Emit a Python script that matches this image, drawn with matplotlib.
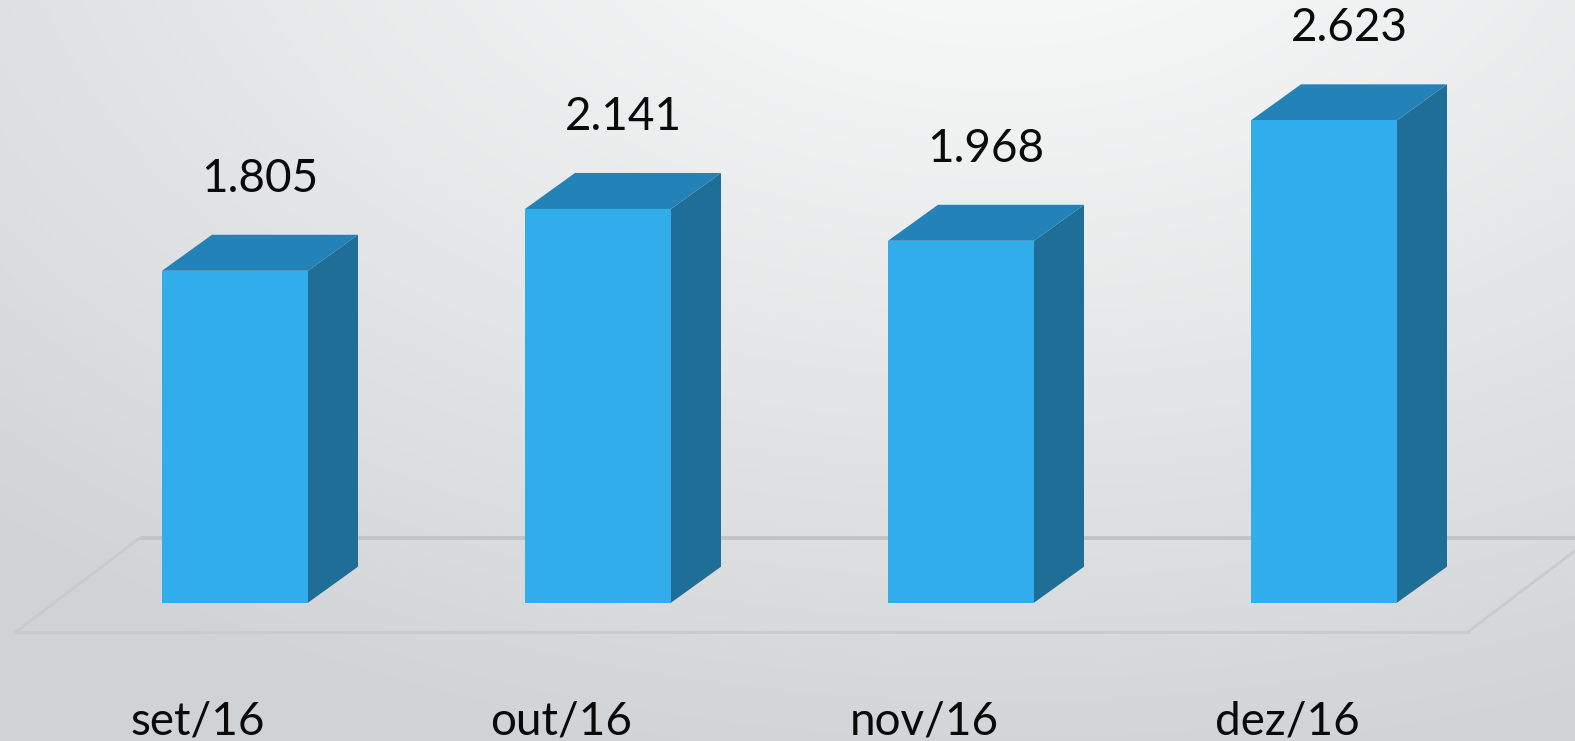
import numpy as np
import matplotlib
matplotlib.use("Agg")
import matplotlib.pyplot as plt
from matplotlib.patches import Polygon
from matplotlib.colors import LinearSegmentedColormap

categories = ["set/16", "out/16", "nov/16", "dez/16"]
values = [1805, 2141, 1968, 2623]
value_labels = ["1.805", "2.141", "1.968", "2.623"]

W, H = 1575, 741
fig = plt.figure(figsize=(W / 100, H / 100), dpi=100)

# background gradient
bg = fig.add_axes([0, 0, 1, 1])
bg.set_axis_off()
yy, xx = np.mgrid[0:H, 0:W]
d = np.sqrt(((xx - 1000) / 1.6) ** 2 + (yy + 150) ** 2)
t = np.clip((d - 150) / 800, 0, 1)
cmap_bg = LinearSegmentedColormap.from_list("bg", ["#f6f7f7", "#e4e5e6", "#d0d3d6"])
bg.imshow(t, cmap=cmap_bg, aspect="auto", extent=[0, W, H, 0], vmin=0, vmax=1)
bg.set_xlim(0, W)
bg.set_ylim(H, 0)

ax = fig.add_axes([0, 0, 1, 1])
ax.set_axis_off()
ax.patch.set_alpha(0)
spacing = 363.0
x0 = 235.0
ppu = 0.1839
base = 602.7
ax.set_xlim(-x0 / spacing, (W - x0) / spacing)
ax.set_ylim((base - H) / ppu, base / ppu)

bw = 146 / spacing
ddx = 50 / spacing
ddy = 36 / ppu

# floor
fl_back = 353
fl_front = -158
fdx = 124 / spacing
ax.plot([-0.603 + fdx, 4.2], [fl_back, fl_back], color="#c2c3c4", lw=2.8, zorder=1, solid_capstyle="butt")
ax.plot([-0.603, -0.603 + fdx], [fl_front, fl_back], color="#c9cacb", lw=2.0, zorder=1)
ax.plot([-0.603, 3.397], [fl_front, fl_front], color="#c9cacb", lw=2.0, zorder=1)
ax.plot([3.397, 3.397 + fdx], [fl_front, fl_back], color="#c9cacb", lw=2.0, zorder=1)

front_c = "#31adeb"
top_c = "#2383b8"
side_c = "#1f6e98"

for i, v in enumerate(values):
    l, r = i - bw / 2, i + bw / 2
    ax.add_patch(Polygon([(r, 0), (r + ddx, ddy), (r + ddx, v + ddy), (r, v)],
                         closed=True, facecolor=side_c, edgecolor="none", zorder=3))
    ax.add_patch(Polygon([(l, v), (r, v), (r + ddx, v + ddy), (l + ddx, v + ddy)],
                         closed=True, facecolor=top_c, edgecolor="none", zorder=3))
    ax.bar(i, v, width=bw, color=front_c, zorder=4)
    ax.text(i + ddx / 2, v + 500, value_labels[i], ha="center", va="center",
            fontsize=33, family="Lato", color="#0a0a0a")
    ax.text(i - 37 / spacing, -648, categories[i], ha="center", va="center",
            fontsize=33, family="Lato", color="#0a0a0a")

fig.savefig("out.png", dpi=100)
